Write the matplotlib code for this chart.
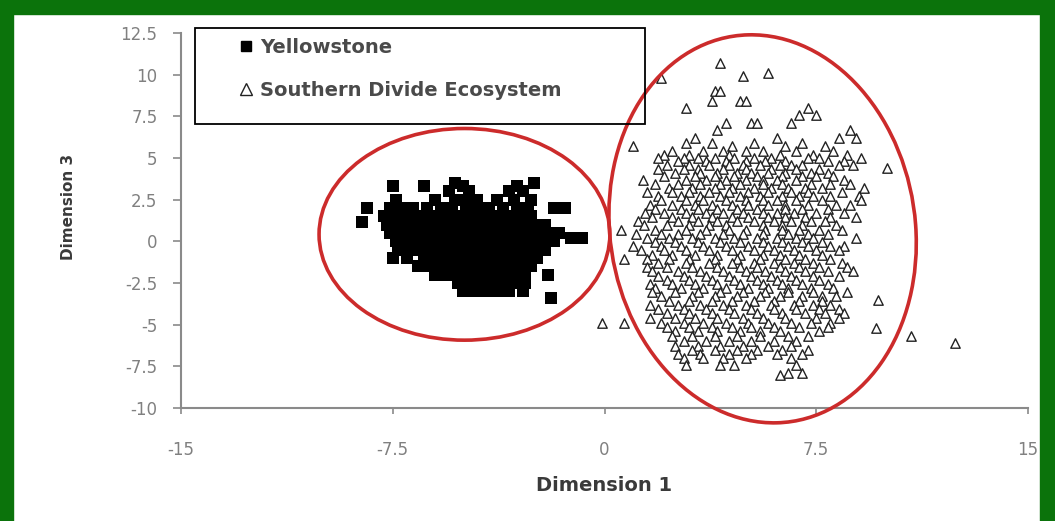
import numpy as np
import matplotlib.pyplot as plt
from matplotlib.patches import Ellipse, Rectangle
from matplotlib.lines import Line2D

plt.rcParams['font.family'] = ['DejaVu Sans']

# ======================
# Datos
# ======================
# Yellowstone: filas (dimension 3 -> valores de dimension 1)
yellowstone_rows = [
    (3.5, [-5.3, -2.5]),
    (3.3, [-7.5, -6.4, -5.0, -3.1]),
    (3.0, [-5.5, -4.8, -3.4, -2.9]),
    (2.5, [-7.4, -6.0, -5.3, -4.9, -4.5, -3.8, -3.2, -2.6]),
    (2.0, [-8.4, -7.6, -7.2, -6.8, -6.3, -5.8, -5.4, -4.9, -4.5, -4.1, -3.6, -3.1, -2.7, -1.8, -1.4]),
    (1.5, [-7.8, -7.4, -7.0, -6.6, -6.2, -5.8, -5.4, -5.0, -4.6, -4.2, -3.8, -3.4, -3.0, -2.6]),
    (1.15, [-8.6]),
    (1.0, [-7.7, -7.3, -6.9, -6.5, -6.1, -5.7, -5.3, -4.9, -4.5, -4.1, -3.7, -3.3, -2.9, -2.5, -2.1]),
    (0.5, [-7.6, -7.2, -6.8, -6.4, -6.0, -5.6, -5.2, -4.8, -4.4, -4.0, -3.6, -3.2, -2.8, -2.4, -2.0, -1.6]),
    (0.2, [-1.2, -0.8]),
    (0.0, [-7.4, -7.0, -6.6, -6.2, -5.8, -5.4, -5.0, -4.6, -4.2, -3.8, -3.4, -3.0, -2.6, -2.2, -1.8]),
    (-0.5, [-7.3, -6.9, -6.5, -6.1, -5.7, -5.3, -4.9, -4.5, -4.1, -3.7, -3.3, -2.9, -2.5, -2.1]),
    (-1.0, [-7.5, -7.0, -6.4, -6.0, -5.6, -5.2, -4.8, -4.4, -4.0, -3.6, -3.2, -2.8, -2.4]),
    (-1.5, [-6.6, -6.2, -5.8, -5.4, -5.0, -4.6, -4.2, -3.8, -3.4, -3.0, -2.6]),
    (-2.0, [-6.0, -5.6, -5.2, -4.8, -4.4, -4.0, -3.6, -3.2, -2.8, -2.0]),
    (-2.5, [-5.2, -4.8, -4.4, -4.0, -3.6, -3.2, -2.8]),
    (-3.0, [-5.0, -4.6, -4.2, -3.8, -3.4, -2.9]),
    (-3.4, [-1.9]),
]

# Southern Divide Ecosystem
southern_rows = [
    (10.7, [4.1]),
    (10.1, [5.8]),
    (9.9, [4.9]),
    (9.8, [2.0]),
    (9.0, [3.9, 4.1]),
    (8.4, [3.8, 4.8, 5.0]),
    (8.0, [2.9, 7.2]),
    (7.6, [6.9, 7.5]),
    (7.1, [4.3, 5.2, 5.4, 6.6]),
    (6.7, [4.0, 8.7]),
    (6.2, [3.2, 6.1, 8.3, 8.9]),
    (5.9, [2.9, 3.8, 5.3, 7.0]),
    (5.7, [1.0, 4.5, 6.4, 7.8]),
    (5.4, [2.4, 3.5, 4.2, 5.0, 5.6, 6.8, 8.1]),
    (5.2, [2.1, 3.0, 4.4, 6.2, 7.4, 8.6]),
    (5.0, [1.9, 2.8, 3.3, 3.9, 4.6, 5.3, 5.9, 7.2, 7.6, 9.1]),
    (4.85, [2.6, 3.6, 4.3, 5.0, 5.7, 6.4, 7.9, 8.5]),
    (4.6, [2.2, 3.0, 3.7, 4.4, 4.9, 5.5, 6.2, 6.6, 7.0, 8.3, 8.8]),
    (4.4, [10.0]),
    (4.35, [1.9, 2.8, 3.3, 4.2, 5.0, 5.9, 6.8, 7.6]),
    (4.1, [2.5, 3.4, 4.0, 4.7, 5.2, 5.8, 6.4, 7.3, 7.9]),
    (3.9, [2.1, 3.2, 3.9, 4.6, 5.4, 6.3, 7.0, 7.5, 8.1]),
    (3.7, [1.35, 2.9, 3.6, 4.3, 5.0, 5.6, 6.1, 6.8, 8.5]),
    (3.45, [1.8, 2.6, 3.4, 4.1, 4.8, 5.6, 6.3, 7.3, 8.0, 8.7]),
    (3.2, [2.3, 3.1, 3.9, 4.5, 5.3, 5.9, 6.5, 7.1, 7.7, 9.2]),
    (2.95, [1.5, 2.4, 3.0, 3.7, 4.4, 5.1, 5.8, 6.6, 7.2, 8.4]),
    (2.7, [1.9, 2.7, 3.4, 4.1, 4.8, 5.5, 6.3, 6.9, 7.4, 8.0, 9.0]),
    (2.45, [2.0, 2.9, 3.5, 4.3, 5.0, 5.6, 6.1, 6.8, 7.7, 9.1]),
    (2.2, [1.6, 2.4, 3.2, 3.8, 4.5, 5.1, 5.8, 6.4, 7.2, 8.2, 8.7]),
    (1.95, [1.8, 2.7, 3.3, 4.0, 4.7, 5.4, 6.4, 7.0, 7.9]),
    (1.7, [1.45, 2.1, 2.9, 3.6, 4.2, 4.9, 5.6, 6.1, 6.7, 7.5, 8.5]),
    (1.45, [1.7, 2.4, 3.1, 3.8, 4.5, 5.1, 5.8, 6.4, 7.1, 8.0, 8.9]),
    (1.2, [1.2, 2.6, 3.3, 4.0, 4.7, 5.3, 6.0, 6.6, 7.3, 7.8]),
    (0.95, [1.4, 2.2, 3.0, 3.7, 4.3, 5.6, 6.3, 7.0, 8.2]),
    (0.7, [0.6, 1.8, 2.9, 3.6, 4.4, 5.0, 5.7, 6.3, 6.9, 7.6, 8.4]),
    (0.45, [1.1, 2.0, 2.6, 3.4, 4.2, 4.9, 5.6, 6.5, 7.2, 7.9]),
    (0.2, [1.5, 2.3, 3.1, 3.9, 4.6, 5.4, 6.1, 6.8, 7.4, 8.9]),
    (-0.05, [1.8, 2.5, 3.3, 4.1, 4.8, 5.6, 6.3, 7.0, 7.7]),
    (-0.3, [1.0, 2.0, 2.7, 3.5, 4.3, 5.1, 5.8, 6.5, 7.2, 8.0, 8.5]),
    (-0.55, [1.3, 2.1, 2.9, 3.7, 4.5, 5.3, 6.0, 6.7, 7.5, 8.3]),
    (-0.8, [1.7, 2.4, 3.2, 4.0, 4.8, 5.6, 6.2, 6.9, 7.7]),
    (-1.05, [0.7, 1.5, 2.3, 3.0, 3.9, 4.7, 5.5, 6.4, 7.1, 8.0]),
    (-1.3, [1.9, 2.9, 3.7, 4.5, 5.3, 6.0, 6.7, 7.4, 8.4]),
    (-1.55, [1.5, 2.2, 3.1, 4.0, 4.8, 5.4, 6.2, 6.9, 7.6, 8.6]),
    (-1.8, [1.7, 2.6, 3.4, 4.2, 5.0, 5.7, 6.4, 7.1, 7.9, 8.8]),
    (-2.05, [1.9, 2.8, 3.6, 4.4, 5.2, 5.9, 6.6, 7.4, 8.3]),
    (-2.3, [2.2, 3.0, 3.8, 4.6, 5.4, 6.1, 6.8, 7.6]),
    (-2.55, [1.6, 2.4, 3.2, 4.0, 4.8, 5.6, 6.3, 7.0, 7.9]),
    (-2.8, [1.8, 2.7, 3.5, 4.3, 5.1, 5.8, 6.5, 7.3, 8.1]),
    (-3.05, [1.7, 2.5, 3.3, 4.1, 4.9, 5.7, 6.5, 7.4, 8.6]),
    (-3.3, [2.0, 3.1, 3.9, 4.7, 5.5, 6.2, 7.0, 7.7, 8.2]),
    (-3.5, [9.7]),
    (-3.55, [2.3, 3.0, 3.8, 4.5, 5.3, 6.0, 6.9, 7.7]),
    (-3.8, [1.6, 2.6, 3.4, 4.2, 5.0, 5.9, 6.7, 7.4, 8.0]),
    (-4.05, [1.9, 2.8, 3.6, 4.4, 5.2, 6.0, 6.8, 7.6, 8.3]),
    (-4.3, [2.2, 3.0, 3.8, 4.6, 5.4, 6.3, 7.1, 7.8, 8.5]),
    (-4.6, [1.6, 2.5, 3.2, 4.0, 4.9, 5.6, 6.4, 7.5, 8.3]),
    (-4.9, [-0.1, 0.7, 2.0, 2.8, 3.5, 4.3, 5.1, 5.8, 6.6, 7.3, 8.0]),
    (-5.15, [2.2, 3.0, 3.8, 4.5, 5.2, 6.0, 6.9, 7.9]),
    (-5.2, [9.6]),
    (-5.4, [2.5, 3.3, 4.0, 4.8, 5.5, 6.2, 7.6]),
    (-5.7, [2.4, 3.1, 3.9, 4.7, 5.5, 6.5, 7.2, 10.85]),
    (-6.0, [2.8, 3.6, 4.4, 5.2, 6.0, 6.8]),
    (-6.1, [12.4]),
    (-6.25, [2.5, 3.3, 4.1, 4.9, 5.8, 6.6]),
    (-6.5, [3.1, 3.9, 4.7, 5.4, 6.3, 7.2]),
    (-6.75, [2.6, 3.4, 4.4, 5.2, 6.1, 7.0]),
    (-7.0, [2.8, 3.5, 4.2, 5.0, 6.6]),
    (-7.4, [2.9, 4.1, 4.6, 6.8]),
    (-7.9, [6.5, 7.0]),
    (-8.0, [6.2]),
]

x_ticks = [-15, -7.5, 0, 7.5, 15]
x_labels = ['-15', '-7.5', '0', '7.5', '15']
y_ticks = [-10, -7.5, -5, -2.5, 0, 2.5, 5, 7.5, 10, 12.5]
y_labels = ['-10', '-7.5', '-5', '-2.5', '0', '2.5', '5', '7.5', '10', '12.5']
series_names = ['Yellowstone', 'Southern Divide Ecosystem']


def expand(rows):
    xs, ys = [], []
    for y, row in rows:
        xs += row
        ys += [y] * len(row)
    return np.array(xs), np.array(ys)


ys_x, ys_y = expand(yellowstone_rows)
sd_x, sd_y = expand(southern_rows)

W, H = 1055, 521

# ======================
# Figura
# ======================
fig = plt.figure(figsize=(W / 100, H / 100), dpi=100)
green = '#0b730b'
fig.patches.append(Rectangle((0, 0), 13 / W, 1, transform=fig.transFigure, color=green, zorder=-5))
fig.patches.append(Rectangle((0, 1 - 14 / H), 1, 14 / H, transform=fig.transFigure, color=green, zorder=-5))
fig.patches.append(Rectangle((1 - 15 / W, 0), 15 / W, 1, transform=fig.transFigure, color=green, zorder=-5))

ax = fig.add_axes([181 / W, 113 / H, 847 / W, 375 / H])

ax.scatter(sd_x, sd_y, marker='^', s=46, facecolors='white', edgecolors='#222222', linewidths=1.0, zorder=2)
ax.scatter(ys_x, ys_y, marker='s', s=78, color='black', linewidths=0, zorder=3)

red = '#cc2b2b'
ax.add_patch(Ellipse((-4.96, 0.42), 10.3, 12.7, fill=False, edgecolor=red, lw=2.6, clip_on=False, zorder=4))
ax.add_patch(Ellipse((5.6, 0.75), 10.85, 23.3, angle=2.5, fill=False, edgecolor=red, lw=2.6, clip_on=False, zorder=4))

ax.set_xlim(-15, 15)
ax.set_ylim(-10, 12.5)
ax.set_xticks(x_ticks)
ax.set_xticklabels(x_labels)
ax.set_yticks(y_ticks)
ax.set_yticklabels(y_labels)

for side in ['top', 'right']:
    ax.spines[side].set_visible(False)
for side in ['left', 'bottom']:
    ax.spines[side].set_color('#8a8a8a')
    ax.spines[side].set_linewidth(1.5)
ax.tick_params(axis='x', direction='out', length=4, width=1.2, color='#8a8a8a', pad=20, labelsize=12, labelcolor='#808080')
ax.tick_params(axis='y', direction='out', length=6, width=1.2, color='#8a8a8a', pad=11, labelsize=12, labelcolor='#808080')

ax.set_xlabel('Dimension 1', fontsize=14, fontweight='bold', color='#3a3a3a', labelpad=12)
ax.set_ylabel('Dimension 3', fontsize=11, fontweight='bold', color='#3a3a3a')
ax.yaxis.set_label_coords(-(181 - 76) / 847, (207 - 33) / -375 + 1)

# leyenda: marco dibujado aparte para fijar su tamaño
fig.patches.append(Rectangle((195 / W, 1 - 124 / H), 450 / W, 96 / H, transform=fig.transFigure,
                             fill=False, edgecolor='black', lw=1.3, zorder=5))
handles = [
    Line2D([], [], marker='s', ls='none', color='black', markersize=7),
    Line2D([], [], marker='^', ls='none', markerfacecolor='white', markeredgecolor='#222222', markersize=8),
]
leg = fig.legend(handles, series_names, loc='upper left', bbox_to_anchor=(238 / W, 1 - 38 / H),
                 frameon=False, handlelength=0.8, handletextpad=0.35, labelspacing=1.25,
                 borderpad=0, borderaxespad=0, prop={'size': 14, 'weight': 'bold'})
for t in leg.get_texts():
    t.set_color('#4a4a4a')

fig.savefig('out.png', dpi=100, facecolor='white')
